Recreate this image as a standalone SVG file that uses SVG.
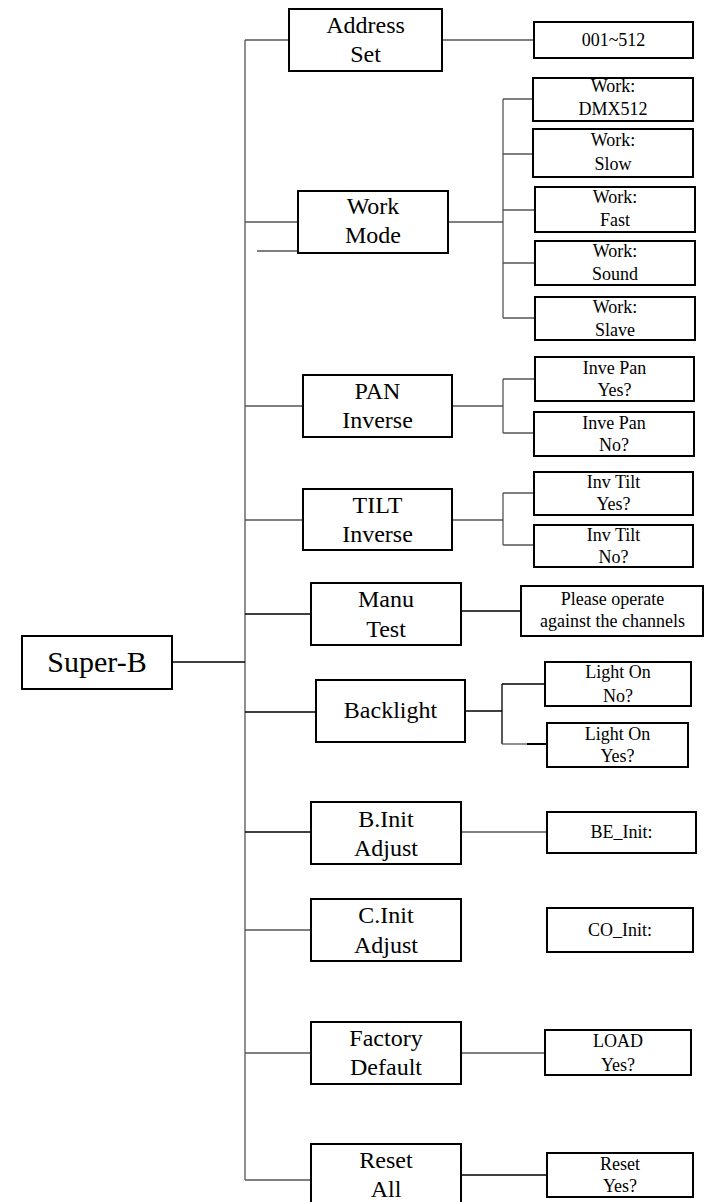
<svg xmlns="http://www.w3.org/2000/svg" width="704" height="1202" viewBox="0 0 704 1202">
<style>
.box{fill:#fff;stroke:#000;stroke-width:2}
.c{fill:none;stroke:#555;stroke-width:1.3}
.k{fill:none;stroke:#000;stroke-width:1.3}
text{font-family:"Liberation Serif","Times New Roman",serif;fill:#000;text-anchor:middle}
.m{font-size:24px}
.s{font-size:18px}
.r{font-size:30px}
</style>
<rect width="704" height="1202" fill="#fff"/>
<g id="connectors">
<path class="c" d="M245 40V1180"/>
<path class="k" d="M172 662H245"/>
<path class="c" d="M245 40H289M442 40H534"/>
<path class="c" d="M245 222H298M257 251H298M448 222H503M503 99V318M503 99H533M503 154H533M503 210H535M503 263H535M503 318H535"/>
<path class="c" d="M245 406H303M452 406H503M503 379V433M503 379H535M503 433H534"/>
<path class="c" d="M245 520H303M452 520H503M503 493V545M503 493H534M503 545H534"/>
<path class="k" d="M245 614H311M461 611H521"/>
<path class="k" d="M245 712H316M465 711H502M502 684V744M502 684H545"/>
<path class="c" d="M502 744H527"/>
<path d="M527 744H547" stroke="#000" stroke-width="2"/>
<path class="k" d="M245 832H311"/>
<path class="c" d="M461 832H547"/>
<path class="c" d="M245 930H311"/>
<path class="c" d="M245 1053H311M461 1053H545"/>
<path class="c" d="M245 1180H311"/>
<path class="k" d="M461 1175H547"/>
</g>
<g id="super-b"><rect class="box" x="22" y="636" width="150" height="53"/><text class="r" x="97" y="672">Super-B</text></g>
<g id="address-set"><rect class="box" x="289" y="9" width="153" height="62"/><text class="m" x="365.5" y="33">Address</text><text class="m" x="365.5" y="62">Set</text></g>
<g id="addr-range"><rect class="box" x="534" y="22" width="159" height="36"/><text class="s" x="613.5" y="46">001~512</text></g>
<g id="work-mode"><rect class="box" x="298" y="191" width="150" height="62"/><text class="m" x="373" y="214">Work</text><text class="m" x="373" y="243">Mode</text></g>
<g id="work-dmx"><rect class="box" x="533" y="78" width="160" height="43"/><text class="s" x="613" y="92">Work:</text><text class="s" x="613" y="115">DMX512</text></g>
<g id="work-slow"><rect class="box" x="533" y="129" width="160" height="48"/><text class="s" x="613" y="146">Work:</text><text class="s" x="613" y="170">Slow</text></g>
<g id="work-fast"><rect class="box" x="535" y="187" width="160" height="45"/><text class="s" x="615" y="203">Work:</text><text class="s" x="615" y="226">Fast</text></g>
<g id="work-sound"><rect class="box" x="535" y="241" width="160" height="44"/><text class="s" x="615" y="257">Work:</text><text class="s" x="615" y="280">Sound</text></g>
<g id="work-slave"><rect class="box" x="535" y="297" width="160" height="43"/><text class="s" x="615" y="313">Work:</text><text class="s" x="615" y="336">Slave</text></g>
<g id="pan-inverse"><rect class="box" x="303" y="375" width="149" height="62"/><text class="m" x="377.5" y="399">PAN</text><text class="m" x="377.5" y="428">Inverse</text></g>
<g id="pan-yes"><rect class="box" x="535" y="357" width="159" height="44"/><text class="s" x="614.5" y="374">Inve Pan</text><text class="s" x="614.5" y="396">Yes?</text></g>
<g id="pan-no"><rect class="box" x="534" y="412" width="160" height="44"/><text class="s" x="614" y="429">Inve Pan</text><text class="s" x="614" y="451">No?</text></g>
<g id="tilt-inverse"><rect class="box" x="303" y="489" width="149" height="61"/><text class="m" x="377.5" y="513">TILT</text><text class="m" x="377.5" y="542">Inverse</text></g>
<g id="tilt-yes"><rect class="box" x="534" y="472" width="159" height="43"/><text class="s" x="613.5" y="488">Inv Tilt</text><text class="s" x="613.5" y="510">Yes?</text></g>
<g id="tilt-no"><rect class="box" x="534" y="525" width="159" height="42"/><text class="s" x="613.5" y="541">Inv Tilt</text><text class="s" x="613.5" y="563">No?</text></g>
<g id="manu-test"><rect class="box" x="311" y="583" width="150" height="62"/><text class="m" x="386" y="607">Manu</text><text class="m" x="386" y="637">Test</text></g>
<g id="manu-info"><rect class="box" x="521" y="586" width="182" height="50"/><text class="s" x="612.5" y="605">Please operate</text><text class="s" x="612.5" y="627">against the channels</text></g>
<g id="backlight"><rect class="box" x="316" y="680" width="149" height="62"/><text class="m" x="390.5" y="718">Backlight</text></g>
<g id="light-no"><rect class="box" x="545" y="662" width="146" height="44"/><text class="s" x="618" y="678">Light On</text><text class="s" x="618" y="702">No?</text></g>
<g id="light-yes"><rect class="box" x="547" y="723" width="141" height="44"/><text class="s" x="617.5" y="740">Light On</text><text class="s" x="617.5" y="762">Yes?</text></g>
<g id="b-init"><rect class="box" x="311" y="802" width="150" height="62"/><text class="m" x="386" y="827">B.Init</text><text class="m" x="386" y="856">Adjust</text></g>
<g id="be-init"><rect class="box" x="547" y="812" width="149" height="41"/><text class="s" x="621.5" y="838">BE_Init:</text></g>
<g id="c-init"><rect class="box" x="311" y="899" width="150" height="62"/><text class="m" x="386" y="923">C.Init</text><text class="m" x="386" y="953">Adjust</text></g>
<g id="co-init"><rect class="box" x="547" y="908" width="146" height="44"/><text class="s" x="620" y="936">CO_Init:</text></g>
<g id="factory-default"><rect class="box" x="311" y="1022" width="150" height="62"/><text class="m" x="386" y="1046">Factory</text><text class="m" x="386" y="1075">Default</text></g>
<g id="load-yes"><rect class="box" x="545" y="1030" width="146" height="45"/><text class="s" x="618" y="1047">LOAD</text><text class="s" x="618" y="1071">Yes?</text></g>
<g id="reset-all"><rect class="box" x="311" y="1144" width="150" height="62"/><text class="m" x="386" y="1168">Reset</text><text class="m" x="386" y="1197">All</text></g>
<g id="reset-yes"><rect class="box" x="547" y="1153" width="146" height="44"/><text class="s" x="620" y="1170">Reset</text><text class="s" x="620" y="1192">Yes?</text></g>
</svg>
